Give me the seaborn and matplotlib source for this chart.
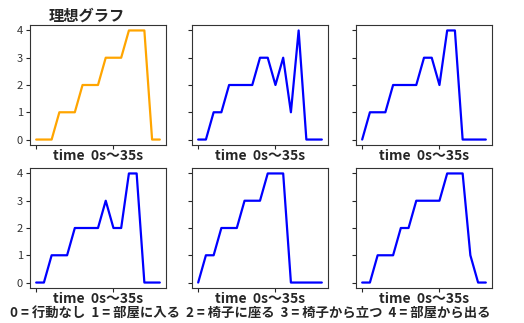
import matplotlib
matplotlib.use("Agg")
import matplotlib.pyplot as plt
import seaborn as sns
import pandas as pd

sns.set_theme(style="ticks")
plt.rcParams['font.family'] = ['Noto Sans CJK JP', 'DejaVu Sans']

time_steps = list(range(17))
ideal = [0, 0, 0, 1, 1, 1, 2, 2, 2, 3, 3, 3, 4, 4, 4, 0, 0]
trial1 = [0, 0, 1, 1, 2, 2, 2, 2, 3, 3, 2, 3, 1, 4, 0, 0, 0]
trial2 = [0, 1, 1, 1, 2, 2, 2, 2, 3, 3, 2, 4, 4, 0, 0, 0, 0]
trial3 = [0, 0, 1, 1, 1, 2, 2, 2, 2, 3, 2, 2, 4, 4, 0, 0, 0]
trial4 = [0, 1, 1, 2, 2, 2, 3, 3, 3, 4, 4, 4, 0, 0, 0, 0, 0]
trial5 = [0, 0, 1, 1, 1, 2, 2, 3, 3, 3, 3, 4, 4, 4, 1, 0, 0]
series = [ideal, trial1, trial2, trial3, trial4, trial5]
colors = ['orange', 'blue', 'blue', 'blue', 'blue', 'blue']
yticks = [0, 1, 2, 3, 4]
xticks = [0, 10]
xlabel = "time  0s〜35s"
title = "理想グラフ"
footer = "0 = 行動なし  1 = 部屋に入る  2 = 椅子に座る  3 = 椅子から立つ  4 = 部屋から出る"

W, H = 524, 323
fig = plt.figure(figsize=(W / 100, H / 100), dpi=100)
lefts = [30, 192, 356]
tops = [25, 168]
aw, ah = 136, 120

for i, vals in enumerate(series):
    r, c = divmod(i, 3)
    ax = fig.add_axes([lefts[c] / W, (H - tops[r] - ah) / H, aw / W, ah / H])
    df = pd.DataFrame({"t": time_steps, "v": vals})
    sns.lineplot(data=df, x="t", y="v", ax=ax, color=colors[i], linewidth=1.6)
    ax.set_yticks(yticks)
    ax.set_ylim(-0.2, 4.2)
    ax.set_xticks(xticks)
    ax.tick_params(axis='x', labelbottom=False)
    if c == 0:
        ax.set_yticklabels([str(y) for y in yticks], fontsize=8, color='#333333')
    else:
        ax.set_yticklabels([])
    ax.tick_params(length=3, width=0.8, pad=2)
    for s in ax.spines.values():
        s.set_color('#333333')
        s.set_linewidth(0.8)
    ax.set_xlabel(xlabel, fontsize=10, fontweight='bold', labelpad=0)
    ax.set_ylabel("")
    if i == 0:
        ax.set_title(title, fontsize=11, fontweight='bold', x=0.42, pad=3)

fig.text(10 / W, 1 - 314 / H, footer, fontsize=9.6, fontweight='bold', va='center', ha='left')
fig.savefig("out.png", dpi=100)
